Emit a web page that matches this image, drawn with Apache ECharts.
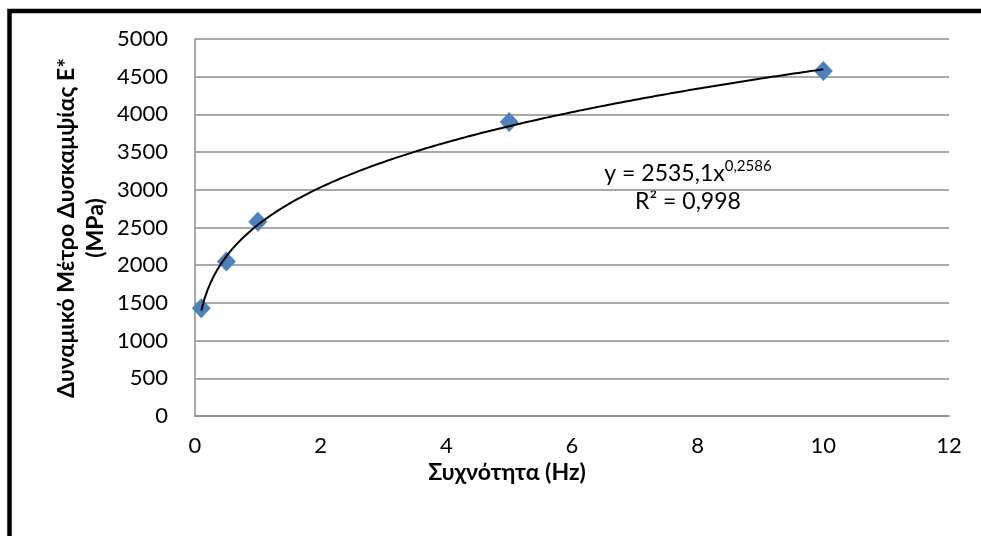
<!DOCTYPE html>
<html>
<head>
<meta charset="utf-8">
<script src="https://cdn.jsdelivr.net/npm/echarts@6/dist/echarts.min.js"></script>
<style>
  html, body { margin: 0; padding: 0; background: #fff; }
  #chart { width: 981px; height: 536px; }
</style>
</head>
<body>
<div id="chart"></div>
<script>
// Measured frequencies (Hz) and dynamic modulus E* (MPa)
const frequencies = [0.1, 0.5, 1, 5, 10];
const modulus = [1430, 2050, 2575, 3900, 4575];

// Power trendline y = a * x^b, coefficients as printed on the chart
const trendA = 2535.1;
const trendB = 0.2586;
const trendLabel = ['y = 2535,1x', '0,2586'];
const r2Label = 'R² = 0,998';

const xTicks = [0, 2, 4, 6, 8, 10, 12];
const yTicks = [0, 500, 1000, 1500, 2000, 2500, 3000, 3500, 4000, 4500, 5000];

const xTitle = 'Συχνότητα (Hz)';
const yTitle = ['Δυναμικό Μέτρο Δυσκαμψίας Ε*', '(MPa)'];

const FONT = 'Lato, "Liberation Sans", sans-serif';

// Sample the fitted curve across the measured range
const trendPoints = [];
const xMin = frequencies[0], xMax = frequencies[frequencies.length - 1];
const steps = 200;
for (let i = 0; i <= steps; i++) {
  const x = xMin + (xMax - xMin) * i / steps;
  trendPoints.push([x, trendA * Math.pow(x, trendB)]);
}

const chart = echarts.init(document.getElementById('chart'), null, { renderer: 'canvas' });

const gridColor = '#8c8c8c';

chart.setOption({
  backgroundColor: '#ffffff',
  animation: false,
  grid: { left: 195, right: 32, top: 39, bottom: 120, containLabel: false },
  xAxis: {
    type: 'value',
    min: xTicks[0],
    max: xTicks[xTicks.length - 1],
    interval: xTicks[1] - xTicks[0],
    axisLine: { show: true, onZero: false, lineStyle: { color: gridColor, width: 1.5 } },
    axisTick: { show: false },
    splitLine: { show: false },
    axisLabel: { color: '#000', fontFamily: FONT, fontSize: 22, margin: 19, formatter: v => String(v) }
  },
  yAxis: {
    type: 'value',
    min: yTicks[0],
    max: yTicks[yTicks.length - 1],
    interval: yTicks[1] - yTicks[0],
    axisLine: { show: true, lineStyle: { color: gridColor, width: 1.5 } },
    axisTick: { show: false },
    splitLine: { show: true, lineStyle: { color: gridColor, width: 1.5 } },
    axisLabel: { color: '#000', fontFamily: FONT, fontSize: 22, margin: 27, formatter: v => String(v) }
  },
  series: [
    {
      type: 'scatter',
      data: frequencies.map((f, i) => [f, modulus[i]]),
      symbol: 'diamond',
      symbolSize: [19, 20],
      itemStyle: { color: '#4f81bd', opacity: 1 },
      z: 2
    },
    {
      type: 'line',
      data: trendPoints,
      showSymbol: false,
      smooth: false,
      lineStyle: { color: '#000', width: 2 },
      z: 3
    }
  ],
  graphic: [
    // outer chart frame
    {
      type: 'rect',
      shape: { x: 9.5, y: 11, width: 1200, height: 800 },
      style: { fill: 'none', stroke: '#000', lineWidth: 4.5 },
      silent: true
    },
    {
      type: 'text',
      x: 507, y: 473,
      style: {
        text: xTitle,
        font: 'bold 23px ' + FONT,
        fill: '#000',
        align: 'center',
        verticalAlign: 'middle'
      }
    },
    {
      type: 'text',
      x: 81, y: 228,
      rotation: Math.PI / 2,
      style: {
        text: yTitle.join('\n'),
        font: 'bold 23px ' + FONT,
        fill: '#000',
        align: 'center',
        verticalAlign: 'middle',
        lineHeight: 29
      }
    },
    {
      type: 'text',
      x: 688, y: 172,
      style: {
        text: '{m|' + trendLabel[0] + '}{s|' + trendLabel[1] + '}',
        align: 'center',
        verticalAlign: 'middle',
        rich: {
          m: { font: '23px ' + FONT, fill: '#000', verticalAlign: 'bottom' },
          s: { font: '15px ' + FONT, fill: '#000', verticalAlign: 'top', padding: [0, 0, 12, 0] }
        }
      }
    },
    {
      type: 'text',
      x: 688, y: 202,
      style: {
        text: r2Label,
        font: '23px ' + FONT,
        fill: '#000',
        align: 'center',
        verticalAlign: 'middle'
      }
    }
  ]
});
</script>
</body>
</html>
